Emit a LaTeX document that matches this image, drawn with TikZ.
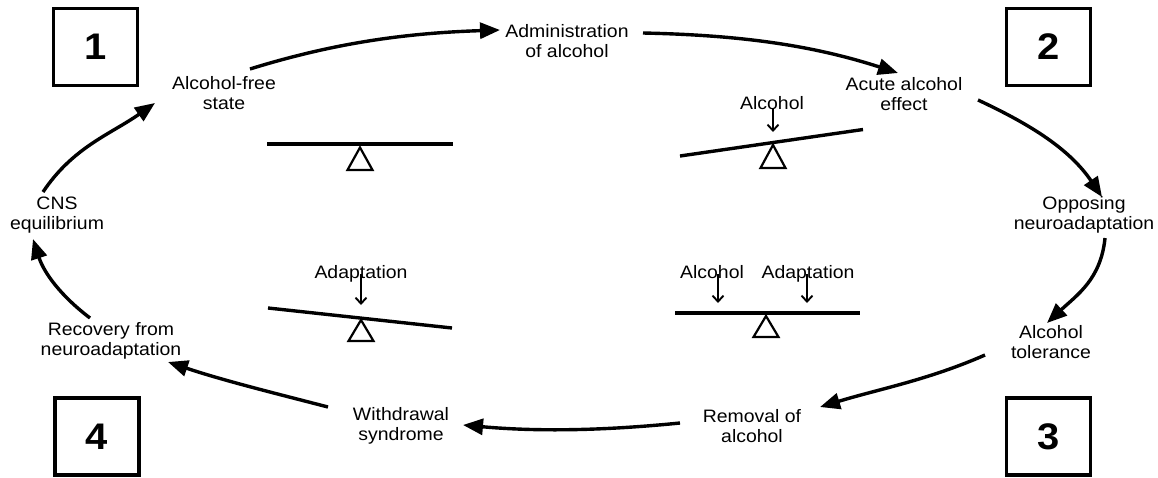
\documentclass[tikz,border=0pt]{standalone}
\usepackage{fontspec}
\setmainfont{Liberation Sans}[FakeStretch=1.08]
\usetikzlibrary{arrows.meta}

\begin{document}
\begin{tikzpicture}[x=1pt,y=-1pt,
  lbl/.style={align=center,font=\fontsize{18}{20.5}\selectfont,inner sep=0pt},
  tag/.style={font=\fontsize{18}{20.5}\selectfont,inner sep=0pt,anchor=base},
  numbox/.style={draw,line width=3.2pt,minimum width=84pt,minimum height=77pt,
    inner sep=0pt,font=\fontsize{37}{40}\selectfont\bfseries},
  cyc/.style={line width=3.4pt,-{Triangle[length=20pt,width=16pt]}},
  beam/.style={line width=3.4pt},
  pivot/.style={line width=2.2pt,line join=miter},
  push/.style={line width=1.9pt,-{Straight Barb[length=6pt,width=11pt]}}]

\useasboundingbox (0,0) rectangle (1158,477);

% stage numbers
\node[numbox] (n1) at (95.5,47) {1};
\node[numbox] (n2) at (1048.5,47) {2};
\node[numbox] (n3) at (1048.5,436.5) {3};
\node[numbox] (n4) at (97,436.5) {4};

% states around the cycle
\node[lbl] (free)  at (224,93)  {Alcohol-free\\state};
\node[lbl] (admin) at (567,41)  {Administration\\of alcohol};
\node[lbl] (acute) at (904,94)  {Acute alcohol\\effect};
\node[lbl] (opp)   at (1084,215) {Opposing\\neuroadaptation};
\node[lbl] (tol)   at (1051,342) {Alcohol\\tolerance};
\node[lbl] (rem)   at (752,426) {Removal of\\alcohol};
\node[lbl] (wd)    at (401,426) {Withdrawal\\syndrome};
\node[lbl] (rec)   at (111,341) {Recovery from\\neuroadaptation};
\node[lbl] (cns)   at (57,215)  {CNS\\equilibrium};

% cycle arrows
\draw[cyc] ([shift={(-14,-23)}]cns.center) .. controls +(30,-45) and +(-44,31) .. ([shift={(-69,10)}]free.center);
\draw[cyc] ([shift={(26,-24)}]free.center) .. controls +(87,-27) and +(-91,3) .. ([shift={(-67,-11)}]admin.center);
\draw[cyc] ([shift={(76,-8)}]admin.center) .. controls +(93,2) and +(-88.5,-28.7) .. ([shift={(-6,-21)}]acute.center);
\draw[cyc] ([shift={(74,6)}]acute.center) .. controls +(52.5,24.5) and +(-32.4,-48) .. ([shift={(18,-18)}]opp.center);
\draw[cyc] ([shift={(21,23)}]opp.center) .. controls +(-4,41) and +(30,-28) .. ([shift={(-4,-19)}]tol.center);
\draw[cyc] ([shift={(-66,13)}]tol.center) .. controls +(-57,25) and +(59,-18) .. ([shift={(68,-19)}]rem.center);
\draw[cyc] ([shift={(-72,-3)}]rem.center) .. controls +(-76,7.6) and +(75.6,6.8) .. ([shift={(62,-1)}]wd.center);
\draw[cyc] ([shift={(-73,-19)}]wd.center) .. controls +(-56,-14.5) and +(55,18.4) .. ([shift={(57,21)}]rec.center);
\draw[cyc] ([shift={(-21,-23)}]rec.center) .. controls +(-29,-22) and +(11,34) .. ([shift={(-24,24)}]cns.center);

% balance 1: level
\draw[beam] (267,144) -- (453,144);
\draw[pivot] (360,147.5) -- (372.5,170) -- (347.5,170) -- cycle;

% balance 2: alcohol pushes one side down
\draw[beam] (680,156) -- (863,129.5);
\draw[pivot] (773,145) -- (785.5,168) -- (760.5,168) -- cycle;
\node[tag] (al2) at (772,109) {Alcohol};
\coordinate (p2) at (773,132);
\draw[push] (al2.base -| p2) -- (p2);

% balance 3: adaptation pushes the other side down
\draw[beam] (268,308) -- (452,328);
\draw[pivot] (361,320) -- (373.5,341) -- (348.5,341) -- cycle;
\node[tag] (ad3) at (361,278) {Adaptation};
\coordinate (p3) at (361,305);
\draw[push] ([yshift=4pt]ad3.base -| p3) -- (p3);

% balance 4: both forces, level again
\draw[beam] (675,313) -- (860,313);
\draw[pivot] (766,316) -- (778.5,337) -- (753.5,337) -- cycle;
\node[tag] (al4) at (712,278) {Alcohol};
\node[tag] (ad4) at (808,278) {Adaptation};
\coordinate (p4a) at (718,303);
\coordinate (p4b) at (807,303);
\draw[push] ([yshift=4pt]al4.base -| p4a) -- (p4a);
\draw[push] ([yshift=4pt]ad4.base -| p4b) -- (p4b);
\end{tikzpicture}
\end{document}
